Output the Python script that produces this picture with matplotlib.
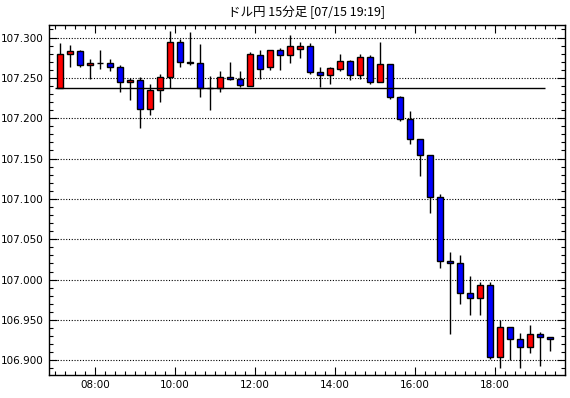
import matplotlib
matplotlib.use('Agg')
import matplotlib.pyplot as plt
from matplotlib.ticker import FixedLocator, MultipleLocator
import numpy as np

# 15-minute candles, 07:00 - 19:15
opens = [107.237, 107.279, 107.283, 107.266, 107.268, 107.268, 107.264, 107.245, 107.247, 107.211,
         107.235, 107.251, 107.295, 107.270, 107.269, 107.237, 107.237, 107.251, 107.248, 107.240,
         107.278, 107.263, 107.284, 107.278, 107.286, 107.289, 107.257, 107.253, 107.261, 107.271,
         107.254, 107.276, 107.245, 107.267, 107.226, 107.199, 107.174, 107.155, 107.102, 107.023,
         107.020, 106.983, 106.977, 106.993, 106.904, 106.941, 106.926, 106.917, 106.932, 106.929]
highs = [107.293, 107.291, 107.285, 107.273, 107.285, 107.273, 107.266, 107.250, 107.251, 107.242,
         107.255, 107.308, 107.298, 107.307, 107.292, 107.252, 107.259, 107.270, 107.259, 107.282,
         107.284, 107.285, 107.287, 107.303, 107.294, 107.293, 107.264, 107.263, 107.279, 107.272,
         107.280, 107.278, 107.294, 107.267, 107.227, 107.209, 107.174, 107.155, 107.106, 107.034,
         107.031, 107.005, 106.997, 106.997, 106.950, 106.941, 106.934, 106.944, 106.935, 106.929]
lows = [107.237, 107.264, 107.263, 107.249, 107.261, 107.258, 107.232, 107.223, 107.188, 107.204,
        107.220, 107.237, 107.263, 107.266, 107.226, 107.210, 107.232, 107.247, 107.239, 107.240,
        107.249, 107.260, 107.260, 107.268, 107.275, 107.255, 107.239, 107.242, 107.258, 107.247,
        107.248, 107.243, 107.245, 107.224, 107.197, 107.168, 107.129, 107.082, 107.014, 106.933,
        106.970, 106.956, 106.956, 106.902, 106.891, 106.900, 106.890, 106.909, 106.893, 106.912]
closes = [107.280, 107.283, 107.266, 107.268, 107.268, 107.264, 107.245, 107.247, 107.211, 107.235,
          107.251, 107.295, 107.270, 107.269, 107.237, 107.2375, 107.251, 107.248, 107.241, 107.280,
          107.261, 107.284, 107.278, 107.289, 107.289, 107.257, 107.253, 107.262, 107.271, 107.254,
          107.276, 107.245, 107.267, 107.226, 107.199, 107.174, 107.155, 107.102, 107.023, 107.020,
          106.984, 106.977, 106.993, 106.904, 106.941, 106.926, 106.917, 106.932, 106.929, 106.926]
ref_price = 107.237  # open of the day line

hour_labels = ['08:00', '10:00', '12:00', '14:00', '16:00', '18:00']
hour_pos = [3.5, 11.5, 19.5, 27.5, 35.5, 43.5]  # in candle units (15 min each)
title = 'ドル円 15分足 [07/15 19:19]'

plt.rcParams['font.family'] = ['DejaVu Sans']

fig = plt.figure(figsize=(5.70, 3.98), dpi=100)
ax = fig.add_axes([49 / 570, 1 - 374.5 / 398, 516 / 570, 349.5 / 398])

x = np.arange(len(opens))
o = np.array(opens)
c = np.array(closes)
colors = np.where(c >= o, '#FF0000', '#0000FF')

ax.vlines(x, lows, highs, color='black', lw=1.0, zorder=2)
bottoms = np.minimum(o, c)
heights = np.maximum(np.abs(c - o), 0.0004)
ax.bar(x, heights, bottom=bottoms, width=0.6, color=colors, edgecolor='black',
       linewidth=1.0, zorder=3)

ax.hlines(ref_price, -0.5, 48.5, color='black', lw=1.0, zorder=4)

ax.set_xlim(-1.1, 50.5)
ax.set_ylim(106.8824, 107.3155)

ax.yaxis.set_major_locator(FixedLocator(np.arange(106.9, 107.3001, 0.05)))
ax.yaxis.set_minor_locator(MultipleLocator(0.01))
ax.set_yticklabels([f'{v:.3f}' for v in np.arange(106.9, 107.3001, 0.05)])
ax.xaxis.set_major_locator(FixedLocator(hour_pos))
ax.set_xticklabels(hour_labels)
ax.xaxis.set_minor_locator(FixedLocator(np.arange(-0.5, 50.6, 1.0)))

ax.grid(axis='y', which='major', color='black', linestyle=(0, (1, 1.5)), lw=0.8)
ax.tick_params(which='both', direction='in', top=True, right=True, labelsize=7.5,
               color='black', width=0.8)
ax.tick_params(which='major', length=6, pad=4)
ax.tick_params(which='minor', length=3)
for s in ax.spines.values():
    s.set_linewidth(1.0)

fig.text(307 / 570, 1 - 12 / 398, title, ha='center', va='center', fontsize=9,
         family=['Noto Sans CJK JP', 'DejaVu Sans'])

fig.savefig('out.png', dpi=100, facecolor='white')
